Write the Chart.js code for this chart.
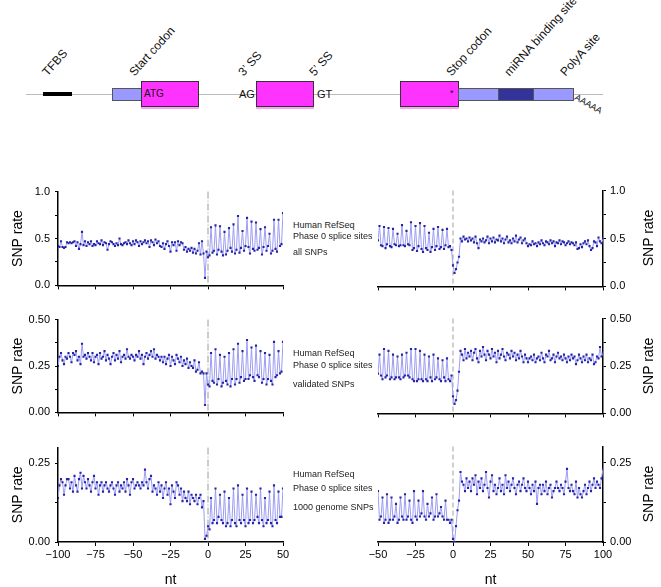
<!DOCTYPE html>
<html lang="en">
<head>
<meta charset="UTF-8">
<title>SNP rate around phase 0 splice sites</title>
<script src="https://cdn.jsdelivr.net/npm/chart.js"></script>
<style>
  body { margin: 0; background: #fff; font-family: "Liberation Sans", Arial, sans-serif; }
  #page { position: relative; width: 661px; height: 587px; overflow: hidden; }
  canvas { position: absolute; }
  .g { position: absolute; box-sizing: border-box; }
  .cds { background: #ff33ff; border: 1px solid #333; box-shadow: 0 2px 0 #f4a6f4; }
  .utr { background: #9999ff; border: 1px solid #555; }
  .t { position: absolute; font-size: 10px; line-height: 10px; color: #111; white-space: nowrap; }
  .lbl { position: absolute; font-size: 12px; line-height: 12px; white-space: nowrap;
         transform-origin: 0 100%; transform: rotate(-48deg); color: #111; }
  .note { position: absolute; left: 293px; font-size: 9px; line-height: 10px; color: #222; white-space: nowrap; }
  .ytitle { position: absolute; width: 80px; height: 18px; margin-left: -40px; margin-top: -9px;
            font-size: 14px; line-height: 18px; text-align: center; transform: rotate(-90deg); }
</style>
</head>
<body>
<div id="page">
  <!-- gene diagram -->
  <div class="g" style="left:26px;top:94px;width:577px;height:1px;background:#bbb"></div>
  <div class="g" style="left:43px;top:92px;width:29px;height:4px;background:#000"></div>
  <div class="g utr" style="left:112px;top:88px;width:30px;height:13px"></div>
  <div class="g cds" style="left:141px;top:81px;width:58px;height:26px"></div>
  <div class="t" style="left:144px;top:89px">ATG</div>
  <div class="t" style="left:239px;top:89px;font-size:11px">AG</div>
  <div class="g cds" style="left:256px;top:81px;width:58px;height:26px"></div>
  <div class="t" style="left:317px;top:89px;font-size:11px">GT</div>
  <div class="g cds" style="left:400px;top:81px;width:59px;height:26px"></div>
  <div class="t" style="left:450px;top:88px;font-size:9px">*</div>
  <div class="g utr" style="left:458px;top:88px;width:41px;height:13px"></div>
  <div class="g" style="left:498px;top:88px;width:36px;height:13px;background:#333399;border:1px solid #555"></div>
  <div class="g utr" style="left:533px;top:88px;width:41px;height:13px"></div>
  <div class="t" style="left:578px;top:92px;font-size:9px;transform-origin:0 0;transform:rotate(30deg)">AAAAA</div>

  <div class="lbl" style="left:49px;top:66px">TFBS</div>
  <div class="lbl" style="left:136px;top:66px">Start codon</div>
  <div class="lbl" style="left:245px;top:66px">3’ SS</div>
  <div class="lbl" style="left:316px;top:66px">5’ SS</div>
  <div class="lbl" style="left:453px;top:66px">Stop codon</div>
  <div class="lbl" style="left:511px;top:66px">miRNA binding site</div>
  <div class="lbl" style="left:567px;top:66px">PolyA site</div>

  <!-- panels -->
  <canvas id="c1" width="293" height="117" style="left:0;top:180px"></canvas>
  <canvas id="c2" width="295" height="117" style="left:366px;top:180px"></canvas>
  <canvas id="c3" width="293" height="116" style="left:0;top:308px"></canvas>
  <canvas id="c4" width="295" height="116" style="left:366px;top:308px"></canvas>
  <canvas id="c5" width="293" height="151" style="left:0;top:436px"></canvas>
  <canvas id="c6" width="295" height="151" style="left:366px;top:436px"></canvas>

  <div class="ytitle" style="left:648px;top:238px">SNP rate</div>
  <div class="ytitle" style="left:648px;top:366px">SNP rate</div>
  <div class="ytitle" style="left:648px;top:494px">SNP rate</div>

  <div class="note" style="top:220px">Human RefSeq</div>
  <div class="note" style="top:231px">Phase 0 splice sites</div>
  <div class="note" style="top:247px">all SNPs</div>
  <div class="note" style="top:348px">Human RefSeq</div>
  <div class="note" style="top:360px">Phase 0 splice sites</div>
  <div class="note" style="top:379px">validated SNPs</div>
  <div class="note" style="top:469px">Human RefSeq</div>
  <div class="note" style="top:483px">Phase 0 splice sites</div>
  <div class="note" style="top:502px">1000 genome SNPs</div>
</div>

<script>
  // first nucleotide of each window (one value per nt)
  const leftFirstNt = -100;   // 3' splice site panels: -100 .. 50
  const rightFirstNt = -50;   // 5' splice site panels: -50 .. 100

  const xTicksLeft = [-100, -75, -50, -25, 0, 25, 50];
  const xTicksRight = [-50, -25, 0, 25, 50, 75, 100];

  const yTicksAll = [0, 0.25, 0.5, 0.75, 1];
  const yTextAll = ['0.0', '', '0.5', '', '1.0'];
  const yTicksValid = [0, 0.125, 0.25, 0.375, 0.5];
  const yTextValid = ['0.00', '', '0.25', '', '0.50'];
  const yTicksKg = [0, 0.125, 0.25];
  const yTextKg = ['0.00', '', '0.25'];

  // all SNPs
  const allLeft = [
    0.42,0.41,0.47,0.41,0.40,0.41,0.46,0.45,0.46,0.45,
    0.46,0.47,0.42,0.46,0.39,0.44,0.57,0.43,0.47,0.42,
    0.46,0.44,0.47,0.42,0.44,0.43,0.47,0.45,0.44,0.48,
    0.43,0.46,0.45,0.38,0.44,0.47,0.46,0.44,0.42,0.45,
    0.43,0.50,0.44,0.43,0.45,0.46,0.44,0.48,0.45,0.43,
    0.47,0.44,0.48,0.46,0.42,0.47,0.44,0.46,0.48,0.45,
    0.47,0.41,0.48,0.46,0.43,0.49,0.45,0.47,0.42,0.41,
    0.45,0.39,0.44,0.47,0.42,0.36,0.46,0.43,0.46,0.37,
    0.47,0.43,0.46,0.45,0.38,0.41,0.36,0.39,0.37,0.40,
    0.35,0.39,0.34,0.37,0.45,0.33,0.47,0.34,0.08,0.36,
    0.30,0.32,0.62,0.35,0.37,0.64,0.33,0.38,0.63,0.36,
    0.32,0.57,0.33,0.37,0.61,0.40,0.36,0.65,0.34,0.38,
    0.74,0.35,0.40,0.58,0.37,0.42,0.72,0.41,0.34,0.68,
    0.39,0.37,0.67,0.38,0.40,0.60,0.33,0.41,0.62,0.37,
    0.42,0.55,0.34,0.37,0.70,0.39,0.36,0.70,0.42,0.44,
    0.77
  ];
  const allRight = [
    0.48,0.63,0.43,0.42,0.62,0.40,0.44,0.61,0.42,0.41,
    0.60,0.44,0.43,0.55,0.42,0.43,0.64,0.43,0.42,0.58,
    0.44,0.43,0.67,0.38,0.40,0.63,0.37,0.42,0.66,0.39,
    0.36,0.63,0.40,0.38,0.56,0.36,0.41,0.60,0.38,0.42,
    0.62,0.39,0.41,0.59,0.39,0.43,0.60,0.41,0.42,0.38,
    0.22,0.14,0.18,0.25,0.31,0.50,0.47,0.52,0.49,0.50,
    0.47,0.51,0.48,0.50,0.46,0.52,0.45,0.40,0.49,0.47,
    0.50,0.46,0.48,0.52,0.45,0.50,0.47,0.51,0.46,0.49,
    0.48,0.53,0.47,0.50,0.45,0.49,0.52,0.46,0.48,0.45,
    0.50,0.47,0.53,0.46,0.49,0.51,0.45,0.48,0.50,0.45,
    0.42,0.44,0.43,0.47,0.44,0.45,0.42,0.46,0.44,0.48,
    0.45,0.43,0.47,0.46,0.44,0.48,0.45,0.47,0.42,0.46,
    0.45,0.48,0.44,0.47,0.46,0.43,0.45,0.47,0.44,0.46,
    0.45,0.43,0.46,0.39,0.40,0.44,0.41,0.45,0.47,0.44,
    0.48,0.42,0.38,0.40,0.47,0.46,0.42,0.51,0.47,0.45,
    0.50
  ];

  // validated SNPs
  const validLeft = [
    0.25,0.30,0.32,0.28,0.26,0.30,0.29,0.32,0.30,0.27,
    0.32,0.31,0.33,0.28,0.30,0.26,0.37,0.30,0.31,0.29,
    0.32,0.30,0.28,0.32,0.27,0.30,0.31,0.26,0.32,0.29,
    0.30,0.33,0.28,0.31,0.29,0.26,0.30,0.32,0.28,0.31,
    0.29,0.33,0.27,0.30,0.31,0.29,0.34,0.30,0.29,0.31,
    0.30,0.28,0.31,0.30,0.33,0.29,0.31,0.26,0.30,0.32,
    0.29,0.31,0.33,0.30,0.34,0.29,0.31,0.30,0.28,0.30,
    0.27,0.30,0.26,0.29,0.31,0.25,0.30,0.28,0.26,0.31,
    0.29,0.27,0.30,0.25,0.28,0.26,0.29,0.24,0.27,0.25,
    0.24,0.28,0.22,0.23,0.27,0.21,0.22,0.21,0.04,0.21,
    0.15,0.14,0.32,0.17,0.16,0.34,0.15,0.18,0.31,0.14,
    0.16,0.30,0.17,0.15,0.32,0.14,0.18,0.34,0.15,0.18,
    0.37,0.16,0.19,0.33,0.17,0.18,0.39,0.18,0.20,0.35,
    0.19,0.17,0.36,0.20,0.19,0.33,0.16,0.18,0.32,0.15,
    0.18,0.31,0.17,0.15,0.38,0.19,0.20,0.33,0.21,0.22,
    0.38
  ];
  const validRight = [
    0.21,0.31,0.20,0.18,0.34,0.19,0.20,0.33,0.18,0.19,
    0.31,0.18,0.19,0.30,0.19,0.18,0.31,0.19,0.20,0.32,
    0.20,0.19,0.34,0.18,0.17,0.34,0.17,0.18,0.33,0.18,
    0.17,0.31,0.18,0.17,0.30,0.19,0.17,0.31,0.18,0.19,
    0.29,0.18,0.17,0.28,0.19,0.17,0.29,0.18,0.17,0.20,
    0.09,0.05,0.07,0.12,0.22,0.33,0.31,0.28,0.34,0.29,
    0.32,0.30,0.33,0.28,0.32,0.34,0.29,0.27,0.33,0.30,
    0.35,0.31,0.28,0.33,0.31,0.29,0.34,0.30,0.32,0.27,
    0.33,0.29,0.31,0.34,0.30,0.28,0.32,0.31,0.29,0.33,
    0.30,0.32,0.28,0.31,0.29,0.33,0.30,0.27,0.31,0.29,
    0.27,0.29,0.30,0.28,0.31,0.27,0.29,0.30,0.28,0.32,
    0.29,0.27,0.31,0.30,0.33,0.28,0.29,0.31,0.27,0.30,
    0.32,0.29,0.30,0.28,0.31,0.29,0.27,0.30,0.28,0.31,
    0.29,0.30,0.26,0.28,0.31,0.29,0.27,0.30,0.28,0.31,
    0.27,0.29,0.28,0.31,0.26,0.27,0.30,0.29,0.35,0.30,
    0.32
  ];

  // 1000 genome SNPs
  const kgLeft = [
    0.14,0.18,0.20,0.19,0.15,0.18,0.20,0.20,0.17,0.19,
    0.16,0.21,0.18,0.16,0.20,0.22,0.17,0.21,0.19,0.17,
    0.20,0.18,0.16,0.19,0.21,0.17,0.19,0.15,0.18,0.19,
    0.16,0.18,0.19,0.17,0.16,0.18,0.19,0.17,0.15,0.18,
    0.19,0.16,0.18,0.17,0.19,0.16,0.20,0.18,0.15,0.19,
    0.20,0.17,0.18,0.19,0.18,0.17,0.19,0.18,0.23,0.19,
    0.17,0.20,0.21,0.16,0.18,0.17,0.15,0.19,0.16,0.18,
    0.14,0.17,0.19,0.15,0.17,0.12,0.18,0.16,0.14,0.19,
    0.18,0.15,0.17,0.13,0.16,0.14,0.13,0.16,0.12,0.15,
    0.14,0.13,0.15,0.12,0.14,0.15,0.11,0.13,0.01,0.02,
    0.05,0.04,0.14,0.06,0.07,0.17,0.06,0.08,0.15,0.07,
    0.06,0.16,0.05,0.06,0.14,0.05,0.07,0.17,0.06,0.05,
    0.18,0.07,0.06,0.15,0.07,0.05,0.17,0.06,0.07,0.16,
    0.06,0.07,0.15,0.08,0.06,0.17,0.07,0.05,0.14,0.06,
    0.07,0.16,0.06,0.05,0.18,0.07,0.06,0.16,0.08,0.08,
    0.17
  ];
  const kgRight = [
    0.16,0.07,0.08,0.14,0.06,0.07,0.15,0.06,0.07,0.14,
    0.07,0.08,0.12,0.06,0.07,0.14,0.08,0.07,0.15,0.07,
    0.08,0.13,0.07,0.06,0.16,0.08,0.07,0.13,0.08,0.09,
    0.16,0.08,0.07,0.12,0.08,0.09,0.14,0.07,0.08,0.15,
    0.08,0.09,0.11,0.08,0.07,0.13,0.07,0.07,0.06,0.07,
    0.01,0.00,0.05,0.10,0.13,0.22,0.19,0.18,0.16,0.20,
    0.17,0.19,0.16,0.20,0.18,0.21,0.15,0.19,0.17,0.20,
    0.16,0.18,0.22,0.17,0.14,0.19,0.21,0.16,0.18,0.15,
    0.17,0.20,0.16,0.18,0.15,0.21,0.17,0.19,0.16,0.18,
    0.20,0.17,0.15,0.18,0.19,0.16,0.18,0.20,0.17,0.16,
    0.19,0.17,0.15,0.18,0.16,0.19,0.12,0.17,0.18,0.15,
    0.18,0.16,0.19,0.15,0.17,0.18,0.14,0.16,0.17,0.19,
    0.17,0.16,0.18,0.17,0.15,0.19,0.23,0.17,0.16,0.18,
    0.16,0.15,0.19,0.14,0.17,0.15,0.14,0.16,0.18,0.15,
    0.17,0.19,0.16,0.18,0.20,0.17,0.19,0.18,0.17,0.20,
    0.23
  ];

  Chart.defaults.font.family = '"Liberation Sans", Arial, sans-serif';
  Chart.defaults.color = '#000';

  // dashed marker at the splice site (x = 0)
  const zeroLine = {
    id: 'zeroLine',
    beforeDatasetsDraw(chart, args, o) {
      const x = chart.scales.x.getPixelForValue(0);
      const { top, bottom } = chart.chartArea;
      const ctx = chart.ctx;
      ctx.save();
      ctx.strokeStyle = o.color;
      ctx.lineWidth = o.width;
      ctx.setLineDash(o.dash);
      ctx.beginPath();
      ctx.moveTo(x, top);
      ctx.lineTo(x, bottom);
      ctx.stroke();
      ctx.restore();
    }
  };

  const minus = v => String(v).replace('-', '\u2212');

  function panel(id, side, firstNt, values, xTicks, yTicks, yText, yMax, bottomRow) {
    const left = side === 'left';
    const pts = values.map((v, i) => ({ x: firstNt + i, y: v }));
    new Chart(document.getElementById(id), {
      type: 'line',
      data: {
        datasets: [{
          data: pts,
          borderColor: '#9d9df2',
          borderWidth: 1,
          tension: 0,
          pointStyle: 'rect',
          pointRadius: 1.5,
          pointBorderWidth: 0,
          pointBackgroundColor: '#2424a8'
        }]
      },
      plugins: [zeroLine],
      options: {
        responsive: false,
        animation: false,
        devicePixelRatio: 1,
        layout: { padding: left ? { left: 0, right: 10, top: 10, bottom: 0 } : { left: 12, right: 0, top: 10, bottom: 0 } },
        plugins: {
          legend: { display: false },
          tooltip: { enabled: false },
          zeroLine: left ? { color: '#9a9a9a', width: 1, dash: [7, 2, 1, 2] } : { color: '#d0d0d0', width: 2, dash: [5, 3] }
        },
        scales: {
          x: {
            type: 'linear',
            min: xTicks[0],
            max: xTicks[xTicks.length - 1],
            afterBuildTicks: s => { s.ticks = xTicks.map(v => ({ value: v })); },
            afterFit: s => { s.height = bottomRow ? 45 : 10; },
            grid: { display: true, drawOnChartArea: false, drawTicks: true, tickLength: 4, color: '#000', lineWidth: 1 },
            border: { display: true, color: '#000', width: 1.5 },
            ticks: { display: bottomRow, autoSkip: false, maxRotation: 0, padding: 2, font: { size: 11 }, callback: v => minus(v) },
            title: { display: bottomRow, text: 'nt', font: { size: 14, lineHeight: 1 }, padding: { top: 0, bottom: 0 } }
          },
          y: {
            position: side,
            min: 0,
            max: yMax,
            afterBuildTicks: s => { s.ticks = yTicks.map(v => ({ value: v })); },
            afterFit: s => { s.width = 58; },
            grid: { display: true, drawOnChartArea: false, drawTicks: true, tickLength: 3, color: '#000', lineWidth: 1 },
            border: { display: true, color: '#000', width: 1.5 },
            ticks: { autoSkip: false, padding: left ? 5 : 4, font: { size: 11 }, callback: (v, i) => yText[i] },
            // right-hand titles are HTML: Chart.js would turn them the other way
            title: { display: left, text: 'SNP rate', font: { size: 14, lineHeight: 1.2 }, padding: { top: 10, bottom: 0 } }
          }
        }
      }
    });
  }

  panel('c1', 'left', leftFirstNt, allLeft, xTicksLeft, yTicksAll, yTextAll, 1, false);
  panel('c2', 'right', rightFirstNt, allRight, xTicksRight, yTicksAll, yTextAll, 1, false);
  panel('c3', 'left', leftFirstNt, validLeft, xTicksLeft, yTicksValid, yTextValid, 0.5, false);
  panel('c4', 'right', rightFirstNt, validRight, xTicksRight, yTicksValid, yTextValid, 0.5, false);
  panel('c5', 'left', leftFirstNt, kgLeft, xTicksLeft, yTicksKg, yTextKg, 0.3, true);
  panel('c6', 'right', rightFirstNt, kgRight, xTicksRight, yTicksKg, yTextKg, 0.3, true);
</script>
</body>
</html>
